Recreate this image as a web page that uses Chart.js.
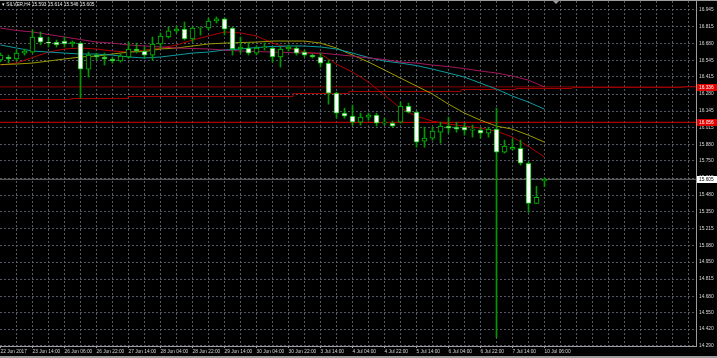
<!DOCTYPE html>
<html><head><meta charset="utf-8">
<script src="https://cdn.jsdelivr.net/npm/chart.js@4.4.1/dist/chart.umd.min.js"></script>
<style>
html,body{margin:0;padding:0;background:#000;overflow:hidden}
canvas{display:block}
</style></head><body>
<canvas id="c" width="717" height="358"></canvas>
<script>
// ---------- DATA ----------
const symbol = 'SILVER,H4';
const opens  = [16.549,16.573,16.557,16.604,16.612,16.731,16.691,16.691,16.699,16.676,16.683,16.477,16.588,16.573,16.557,16.541,16.573,16.636,16.620,16.588,16.676,16.731,16.779,16.794,16.715,16.802,16.802,16.858,16.874,16.802,16.636,16.644,16.604,16.644,16.644,16.573,16.636,16.644,16.612,16.588,16.573,16.525,16.287,16.129,16.105,16.057,16.097,16.113,16.049,16.049,16.057,16.184,16.137,15.907,15.931,15.978,16.026,16.018,16.018,15.994,15.994,15.970,16.002,15.820,15.843,15.851,15.732,15.415,15.593];
const highs  = [16.604,16.588,16.628,16.636,16.787,16.771,16.731,16.707,16.731,16.699,16.691,16.612,16.604,16.604,16.573,16.596,16.691,16.683,16.652,16.731,16.763,16.810,16.818,16.850,16.810,16.802,16.882,16.890,16.882,16.810,16.731,16.683,16.660,16.683,16.652,16.652,16.668,16.660,16.628,16.596,16.604,16.549,16.295,16.168,16.192,16.129,16.129,16.129,16.089,16.065,16.216,16.208,16.145,16.018,16.018,16.057,16.097,16.057,16.049,16.034,16.010,16.018,16.168,15.915,15.923,15.915,15.741,15.550,15.614];
const lows   = [16.533,16.525,16.541,16.588,16.604,16.668,16.652,16.652,16.652,16.652,16.248,16.414,16.549,16.509,16.525,16.533,16.565,16.604,16.565,16.549,16.644,16.723,16.763,16.707,16.691,16.747,16.787,16.842,16.747,16.588,16.604,16.588,16.588,16.628,16.533,16.493,16.620,16.588,16.573,16.565,16.493,16.200,16.089,16.089,16.034,16.034,16.073,16.026,16.034,16.018,16.049,16.129,15.859,15.859,15.915,15.891,15.970,15.978,15.954,15.939,15.931,15.939,14.354,15.812,15.836,15.717,15.344,15.415,15.546];
const closes = [16.588,16.557,16.604,16.620,16.731,16.691,16.683,16.668,16.676,16.691,16.477,16.588,16.573,16.557,16.541,16.580,16.636,16.620,16.588,16.676,16.739,16.779,16.794,16.715,16.802,16.802,16.858,16.874,16.794,16.636,16.652,16.604,16.644,16.644,16.573,16.636,16.652,16.604,16.588,16.573,16.525,16.287,16.129,16.105,16.057,16.097,16.113,16.049,16.049,16.026,16.184,16.137,15.899,15.931,15.986,16.026,16.010,16.002,15.994,16.002,15.970,16.002,15.820,15.867,15.859,15.732,15.415,15.463,15.605];

// moving averages, read every 2 bars
const maBars    = [0,2,4,6,8,10,12,14,16,18,20,22,24,26,28,30,32,34,36,38,40,42,44,46,48,50,52,54,56,58,60,62,64,66,68];
const maRed     = [16.509,16.525,16.569,16.612,16.636,16.644,16.636,16.620,16.612,16.628,16.644,16.668,16.707,16.739,16.771,16.763,16.739,16.683,16.644,16.612,16.596,16.517,16.454,16.374,16.271,16.168,16.105,16.065,16.042,16.026,16.010,15.986,15.939,15.867,15.780];
const maYellow  = [16.513,16.517,16.525,16.541,16.557,16.573,16.580,16.596,16.612,16.616,16.636,16.644,16.660,16.676,16.683,16.687,16.691,16.699,16.699,16.699,16.683,16.644,16.588,16.533,16.470,16.406,16.343,16.279,16.200,16.129,16.073,16.026,16.002,15.954,15.899];
const maCyan    = [16.668,16.644,16.620,16.612,16.604,16.596,16.596,16.588,16.573,16.565,16.573,16.588,16.604,16.612,16.628,16.636,16.648,16.656,16.660,16.660,16.652,16.636,16.604,16.569,16.541,16.525,16.505,16.477,16.446,16.414,16.366,16.319,16.263,16.216,16.160];
const maMagenta = [16.802,16.783,16.771,16.751,16.731,16.711,16.691,16.683,16.668,16.660,16.652,16.644,16.640,16.636,16.628,16.620,16.616,16.612,16.608,16.604,16.604,16.592,16.580,16.565,16.553,16.533,16.525,16.509,16.497,16.481,16.462,16.446,16.422,16.390,16.335];

// slow stepped line: each step from stepStarts[j] to stepEnds[j] at stepValues[j]
const stepStarts = [0,8.75,15.9,36.6,43.5,57.5,64.4,71.4,85.4];
const stepEnds   = [8.75,15.9,36.6,43.5,57.5,64.4,71.4,85.4,87];
const stepValues = [16.240,16.245,16.268,16.285,16.305,16.317,16.325,16.333,16.343];

// horizontal levels
const levelUpper = 16.336;
const levelLower = 16.056;

const xTickLabels = ['22 Jun 2017','23 Jun 14:00','26 Jun 06:00','26 Jun 22:00','27 Jun 14:00','28 Jun 04:00','28 Jun 22:00','29 Jun 14:00','30 Jun 04:00','30 Jun 22:00','3 Jul 14:00','4 Jul 04:00','4 Jul 22:00','5 Jul 14:00','6 Jul 04:00','6 Jul 22:00','7 Jul 14:00','10 Jul 06:00'];
const yTickLabels = ['14.290','14.420','14.550','14.680','14.815','14.950','15.080','15.215','15.350','15.480','15.615','15.750','15.880','16.015','16.145','16.280','16.415','16.545','16.680','16.815','16.945'];

// ---------- LAYOUT ----------
const BAR_PX = 8, PLOT_W = 696;
const X_MIN = -0.0625, X_MAX = X_MIN + PLOT_W / BAR_PX;
const LABEL_STEP = 4, GRID_STEP = 2;
const Y_MIN = 14.286, Y_MAX = 17.016;
const FONT = '"Liberation Sans", Arial, sans-serif';
const GRID = 'rgba(95,105,118,0.85)';
const CANDLE = '#00c000', WICK = '#009a00';
const last = closes.length - 1;

const idx = opens.map((_, i) => i);
const line = (vals, color) => ({
  type: 'line', data: maBars.map((b, j) => ({x: b, y: vals[j]})),
  borderColor: color, borderWidth: 1, pointRadius: 0, tension: 0, order: 5
});
const seg = (x0, x1, v, color, order) => ({
  type: 'line', data: [{x: x0, y: v}, {x: x1, y: v}],
  borderColor: color, borderWidth: 1, pointRadius: 0, order
});

const decor = {
  id: 'decor',
  beforeDatasetsDraw(chart) {
    // slow stepped line, placed through the chart's own scales
    const {ctx, chartArea: ca, scales: {x, y}} = chart;
    ctx.save();
    ctx.beginPath(); ctx.rect(ca.left, ca.top, ca.width, ca.height); ctx.clip();
    ctx.strokeStyle = '#a00000'; ctx.lineWidth = 1;
    ctx.beginPath();
    stepValues.forEach((v, j) => {
      const py = Math.round(y.getPixelForValue(v)) + 0.5;
      const x0 = Math.round(x.getPixelForValue(stepStarts[j]));
      const x1 = Math.round(x.getPixelForValue(stepEnds[j]));
      if (j === 0) ctx.moveTo(x0, py); else ctx.lineTo(x0, py);
      ctx.lineTo(x1, py);
    });
    ctx.stroke();
    ctx.restore();
  },
  afterDraw(chart) {
    const {ctx, chartArea: ca, scales: {y}} = chart;
    ctx.save();
    ctx.fillStyle = '#9c9c9c';
    ctx.fillRect(0, 0, chart.width, 1);
    ctx.fillRect(0, 356, chart.width, 2);
    // chart shift marker
    ctx.beginPath(); ctx.moveTo(553, 1); ctx.lineTo(559, 1); ctx.lineTo(556, 4); ctx.closePath(); ctx.fill();
    const box = (v, bg, fg) => {
      const py = Math.round(y.getPixelForValue(v));
      ctx.fillStyle = bg; ctx.fillRect(ca.right + 1, py - 3, 20, 7);
      ctx.fillStyle = fg; ctx.font = '4.8px ' + FONT; ctx.textBaseline = 'middle'; ctx.textAlign = 'left';
      ctx.fillText(v.toFixed(3), ca.right + 3, py + 0.5);
    };
    box(levelUpper, '#e00000', '#ffffff');
    box(levelLower, '#e00000', '#ffffff');
    box(closes[last], '#ffffff', '#000000');
    ctx.fillStyle = '#e8e8e8'; ctx.font = '4.8px ' + FONT; ctx.textBaseline = 'middle'; ctx.textAlign = 'left';
    ctx.fillText('\u25BE ' + symbol + ' ' + [opens[last], highs[last], lows[last], closes[last]].map(v => v.toFixed(3)).join(' '), 2, 5);
    ctx.restore();
  }
};

new Chart(document.getElementById('c'), {
  data: {
    datasets: [
      {type: 'bar', data: idx.map(i => ({x: i, y: [lows[i], highs[i]]})),
       backgroundColor: WICK, barThickness: 1, grouped: false, order: 2},
      {type: 'bar', data: idx.map(i => ({x: i, y: [opens[i], closes[i]]})),
       backgroundColor: idx.map(i => closes[i] < opens[i] ? '#ffffff' : '#000000'),
       borderColor: CANDLE, borderWidth: 1, borderSkipped: false, minBarLength: 1,
       barThickness: 5, grouped: false, order: 1},
      line(maMagenta, '#a3175e'),
      line(maCyan, '#0a9aa0'),
      line(maYellow, '#9c9a00'),
      line(maRed, '#b00000'),
      seg(X_MIN, X_MAX, levelUpper, '#8c0000', 9),
      seg(X_MIN, X_MAX, levelLower, '#d00000', 9),
      seg(X_MIN, X_MAX, closes[last], '#6e6e6e', 10)
    ]
  },
  options: {
    responsive: false, animation: false, devicePixelRatio: 1,
    layout: {padding: {top: 1, left: 0, right: 0, bottom: 0}},
    plugins: {legend: {display: false}, tooltip: {enabled: false}},
    scales: {
      x: {
        type: 'linear', position: 'bottom', min: X_MIN, max: X_MAX, offset: false,
        afterBuildTicks: s => { const t = []; for (let v = 0; v <= X_MAX; v += GRID_STEP) t.push({value: v}); s.ticks = t; },
        afterFit: s => { s.height = 12; s.paddingLeft = 0; s.paddingRight = 0; },
        grid: {
          offset: false,
          color: c => (c.tick && c.tick.value === 0) ? 'rgba(0,0,0,0)' : GRID,
          drawTicks: true, tickLength: 2,
          tickColor: c => (c.tick && c.tick.value % LABEL_STEP === 0 && c.tick.value / LABEL_STEP < xTickLabels.length) ? '#9c9c9c' : 'rgba(0,0,0,0)'
        },
        border: {display: true, color: '#9c9c9c', dash: [2, 2]},
        ticks: {
          autoSkip: false, maxRotation: 0, align: 'start', padding: 1, color: '#d8d8d8',
          font: {size: 4.8, family: FONT},
          callback: v => (v % LABEL_STEP === 0 && xTickLabels[v / LABEL_STEP]) ? xTickLabels[v / LABEL_STEP] : ''
        }
      },
      y: {
        type: 'linear', position: 'right', min: Y_MIN, max: Y_MAX, beginAtZero: false,
        afterBuildTicks: s => { s.ticks = yTickLabels.map(l => ({value: parseFloat(l)})); },
        afterFit: s => { s.width = 21; s.paddingTop = 0; s.paddingBottom = 0; },
        grid: {color: GRID, drawTicks: false},
        border: {display: true, color: '#9c9c9c', dash: [2, 2]},
        ticks: {
          padding: 3, color: '#d8d8d8', font: {size: 4.8, family: FONT},
          callback: (v, i) => yTickLabels[i]
        }
      }
    }
  },
  plugins: [decor]
});
</script>
</body></html>
